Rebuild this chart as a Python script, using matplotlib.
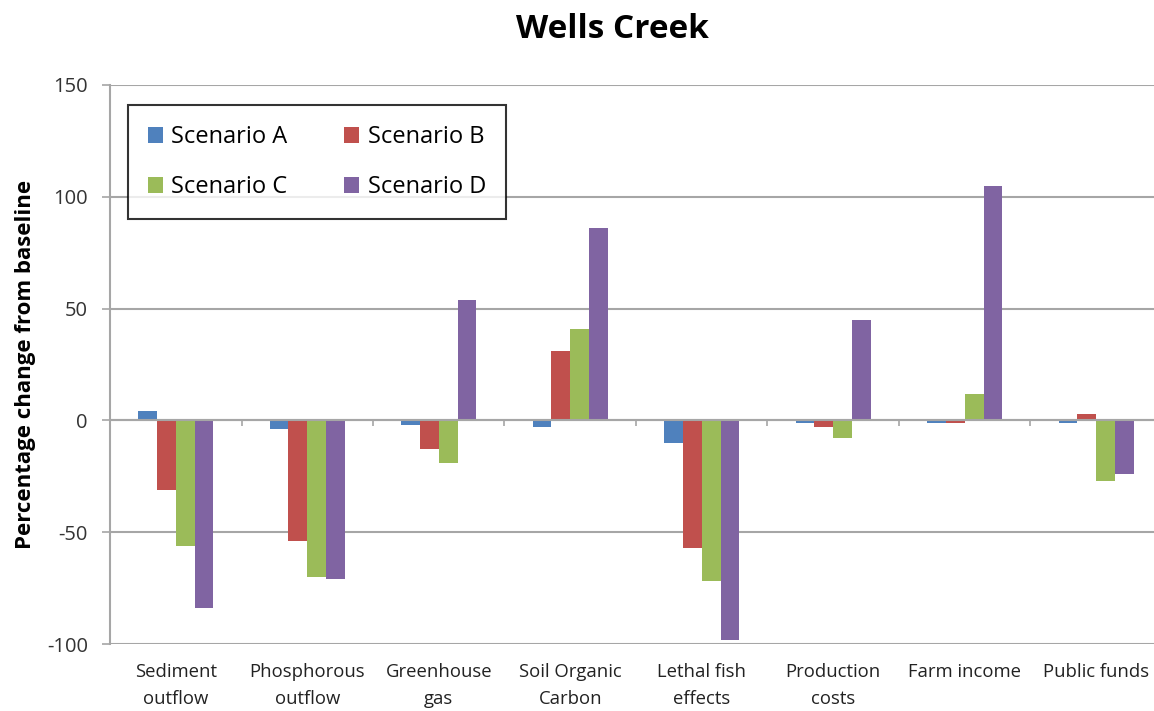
import matplotlib
matplotlib.use("Agg")
import matplotlib.pyplot as plt
import numpy as np
from matplotlib.patches import Patch

categories = ["Sediment\noutflow", "Phosphorous\noutflow", "Greenhouse\ngas",
              "Soil Organic\nCarbon", "Lethal fish\neffects", "Production\ncosts",
              "Farm income", "Public funds"]
series_names = ["Scenario A", "Scenario B", "Scenario C", "Scenario D"]
scenario_a = [4, -4, -2, -3, -10, -1, -1, -1]
scenario_b = [-31, -54, -13, 31, -57, -3, -1, 3]
scenario_c = [-56, -70, -19, 41, -72, -8, 12, -27]
scenario_d = [-84, -71, 54, 86, -98, 45, 105, -24]
yticks = [-100, -50, 0, 50, 100, 150]
colors = ["#4F81BD", "#C0504D", "#9BBB59", "#8064A2"]

plt.rcParams['font.family'] = ['Open Sans', 'DejaVu Sans']

fig = plt.figure(figsize=(11.54, 7.11), dpi=100)
ax = fig.add_axes([110/1154, 1-644/711, 1-110/1154, (644-85)/711])

x = np.arange(len(categories))
w = 0.143
data = [scenario_a, scenario_b, scenario_c, scenario_d]
for i, (vals, c) in enumerate(zip(data, colors)):
    ax.bar(x + (i - 1.5) * w, vals, width=w, color=c, zorder=3, linewidth=0)

ax.set_ylim(-100, 150)
ax.set_xlim(-0.5, 7.5 - 8/131.5)
ax.set_yticks(yticks)
ax.set_yticklabels([str(v) for v in yticks], fontsize=14.5, color="#333333")
ax.yaxis.grid(True, color="#A6A6A6", linewidth=1.5, zorder=0)
ax.tick_params(axis='y', length=6, width=1.2, color="#A6A6A6", pad=10)

for s in ['top', 'right', 'bottom']:
    ax.spines[s].set_visible(False)
ax.spines['left'].set_color("#A6A6A6")
ax.spines['left'].set_linewidth(1.5)

# category axis at zero
ax.axhline(0, color="#A6A6A6", linewidth=1.5, zorder=4)
bounds = np.arange(len(categories) + 1) - 0.5
ax.vlines(bounds[1:], -2.3, 0, color="#A6A6A6", linewidth=1.2, zorder=4)

ax.set_xticks(x)
ax.set_xticklabels(categories, fontsize=13.3, color="#222222", linespacing=1.6)
ax.tick_params(axis='x', length=0, pad=14)

ax.set_ylabel("Percentage change from baseline", fontsize=16, fontweight='bold', labelpad=8)

handles = [Patch(facecolor=c, edgecolor='none', label=n) for c, n in zip(colors, series_names)]
order = [0, 2, 1, 3]
leg = ax.legend(handles=[handles[k] for k in order], ncol=2, loc='upper left',
                bbox_to_anchor=(18/1052, 1-20/559), borderaxespad=0,
                fontsize=17, frameon=True, fancybox=False, edgecolor='black',
                handlelength=0.64, handleheight=0.64, columnspacing=2.4, borderpad=0.85,
                labelspacing=1.1, handletextpad=0.35)
leg.get_frame().set_linewidth(1.5)

fig.text(612/1154, 1-30/711, "Wells Creek", fontsize=24, fontweight='bold', ha='center', va='center')

fig.savefig("out.png", dpi=100)
